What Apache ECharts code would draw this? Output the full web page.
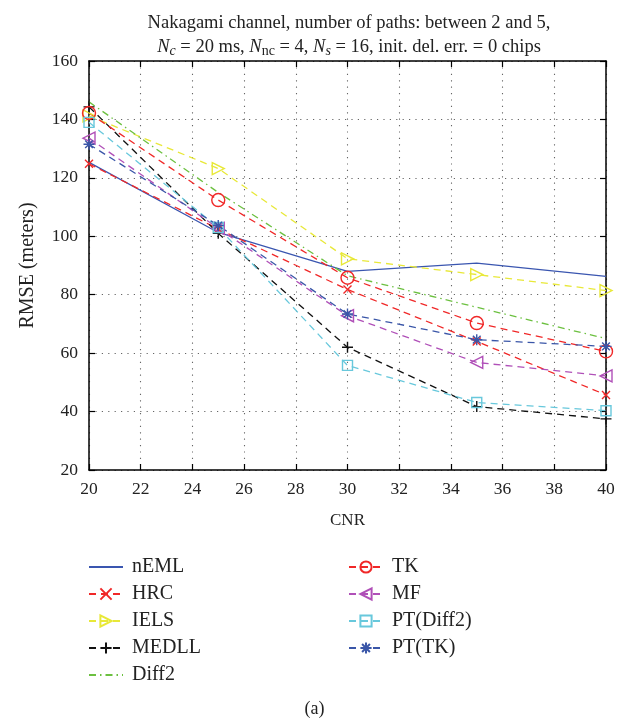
<!DOCTYPE html>
<html><head><meta charset="utf-8">
<script src="https://cdn.jsdelivr.net/npm/echarts@6/dist/echarts.min.js"></script>
<style>html,body{margin:0;padding:0;background:#fff}#c{width:629px;height:725px}</style>
</head><body><div id="c"></div>
<script>
const cnr = [20, 25, 30, 35, 40];
const nEML = [125.3, 101.3, 88.0, 90.8, 86.3];
const HRC = [124.8, 102.5, 81.8, 64.0, 45.7];
const IELS = [141.2, 123.2, 92.3, 86.9, 81.4];
const MEDLL = [144.3, 101.0, 62.0, 41.7, 37.5];
const Diff2 = [146.0, 115.0, 86.5, 75.7, 65.0];
const TK = [142.2, 112.4, 85.8, 70.3, 60.6];
const MF = [133.6, 102.7, 72.8, 56.8, 52.2];
const PTDiff2 = [139.0, 103.0, 55.8, 43.1, 40.3];
const PTTK = [131.5, 103.7, 73.4, 64.6, 62.3];
const xTicks = [20, 22, 24, 26, 28, 30, 32, 34, 36, 38, 40];
const yTicks = [20, 40, 60, 80, 100, 120, 140, 160];

const FONT = '"Liberation Serif", "DejaVu Serif", serif';
const TXT = '#222';
const pairs = arr => arr.map((v, i) => [cnr[i], v]);

const SYM = {
  cross: 'path://M0,0L10,10M10,0L0,10',
  plus: 'path://M5,0L5,10M0,5L10,5',
  star: 'path://M5,0L5,10M0,5L10,5M1.5,1.5L8.5,8.5M8.5,1.5L1.5,8.5',
  triR: 'path://M0,0L10,5L0,10Z',
  triL: 'path://M10,0L0,5L10,10Z',
  square: 'path://M0,0L10,0L10,10L0,10Z'
};

function mk(name, data, color, dash, symbol, size) {
  return {
    name, type: 'line', data: pairs(data), xAxisIndex: 0, yAxisIndex: 0,
    symbol: symbol || 'none', symbolSize: size || 12,
    lineStyle: { color, width: 1.3, type: dash },
    itemStyle: symbol
      ? { color: 'rgba(0,0,0,0)', borderColor: color, borderWidth: 1.4 }
      : { color: 'rgba(0,0,0,0)', borderColor: 'rgba(0,0,0,0)', borderWidth: 0 },
    emphasis: { disabled: true }, animation: false, z: 3
  };
}

const DASH = [7, 5];
const series = [
  mk('nEML', nEML, '#3a56b0', 'solid', null),
  mk('HRC', HRC, '#f02828', DASH, SYM.cross, 8),
  mk('IELS', IELS, '#e8e838', DASH, SYM.triR, 12),
  mk('MEDLL', MEDLL, '#111111', DASH, SYM.plus, 11),
  mk('Diff2', Diff2, '#6cc040', [7, 4, 1.5, 4], null),
  mk('TK', TK, '#f02828', DASH, 'circle', 13),
  mk('MF', MF, '#b050b8', DASH, SYM.triL, 12),
  mk('PT(Diff2)', PTDiff2, '#68c8dc', DASH, SYM.square, 10),
  mk('PT(TK)', PTTK, '#3a56a8', DASH, SYM.star, 11)
];

const axisCommon = {
  axisLine: { show: true, onZero: false, lineStyle: { color: '#000', width: 1.5 } },
  axisTick: { show: true, inside: true, length: 6, lineStyle: { color: '#000', width: 1.2 } }
};

const legendText = { fontFamily: FONT, fontSize: 20, color: TXT, padding: [0, 0, 0, 4] };

const option = {
  animation: false,
  backgroundColor: '#fff',
  title: {
    left: 344, top: 6, textAlign: 'center',
    text: '{t|Nakagami channel, number of paths: between 2 and 5,}\n' +
      '{i|N}{si|c}{t| = 20 ms, }{i|N}{s|nc}{t| = 4, }{i|N}{si|s}{t| = 16, init. del. err. = 0 chips}',
    textStyle: {
      fontWeight: 'normal',
      rich: {
        t: { fontFamily: FONT, fontSize: 18.5, color: TXT, fontWeight: 'normal', lineHeight: 24 },
        i: { fontFamily: FONT, fontSize: 18.5, color: TXT, fontWeight: 'normal', fontStyle: 'italic', lineHeight: 24 },
        s: { fontFamily: FONT, fontSize: 14, color: TXT, fontWeight: 'normal', lineHeight: 24, padding: [8, 0, 0, 0] },
        si: { fontFamily: FONT, fontSize: 14, color: TXT, fontWeight: 'normal', fontStyle: 'italic', lineHeight: 24, padding: [8, 0, 0, 0] }
      }
    }
  },
  grid: { left: 89, right: 23, top: 61, bottom: 255, containLabel: false },
  legend: [
    {
      orient: 'vertical', left: 83, top: 552, itemWidth: 34, itemHeight: 14, itemGap: 7,
      data: ['nEML', 'HRC', 'IELS', 'MEDLL', 'Diff2'],
      textStyle: legendText, selectedMode: false
    },
    {
      orient: 'vertical', left: 343, top: 552, itemWidth: 34, itemHeight: 14, itemGap: 7,
      data: ['TK', 'MF', 'PT(Diff2)', 'PT(TK)'],
      textStyle: legendText, selectedMode: false
    }
  ],
  xAxis: [
    Object.assign({
      type: 'value', min: 20, max: 40, interval: 2, position: 'bottom',
      name: 'CNR', nameLocation: 'middle', nameGap: 42,
      nameTextStyle: { fontFamily: FONT, fontSize: 17, color: TXT },
      axisLabel: { fontFamily: FONT, fontSize: 17.5, color: TXT, margin: 10 },
      splitLine: { show: true, lineStyle: { color: '#666', width: 1.1, type: [1.2, 5.2] } }
    }, axisCommon),
    Object.assign({
      type: 'value', min: 20, max: 40, interval: 2, position: 'top',
      axisLabel: { show: false }, splitLine: { show: false }
    }, axisCommon)
  ],
  yAxis: [
    Object.assign({
      type: 'value', min: 20, max: 160, interval: 20, position: 'left',
      name: 'RMSE (meters)', nameLocation: 'middle', nameGap: 51,
      nameTextStyle: { fontFamily: FONT, fontSize: 20, color: TXT },
      axisLabel: { fontFamily: FONT, fontSize: 17.5, color: TXT, margin: 11 },
      splitLine: { show: true, lineStyle: { color: '#666', width: 1.1, type: [1.2, 5.2] } }
    }, axisCommon),
    Object.assign({
      type: 'value', min: 20, max: 160, interval: 20, position: 'right',
      axisLabel: { show: false }, splitLine: { show: false }
    }, axisCommon)
  ],
  graphic: [
    { type: 'text', left: 'center', top: 700,
      style: { text: '(a)', font: '18px ' + FONT, fill: TXT } }
  ],
  series
};

const chart = echarts.init(document.getElementById('c'), null, { renderer: 'canvas' });
chart.setOption(option);
</script>
</body></html>
